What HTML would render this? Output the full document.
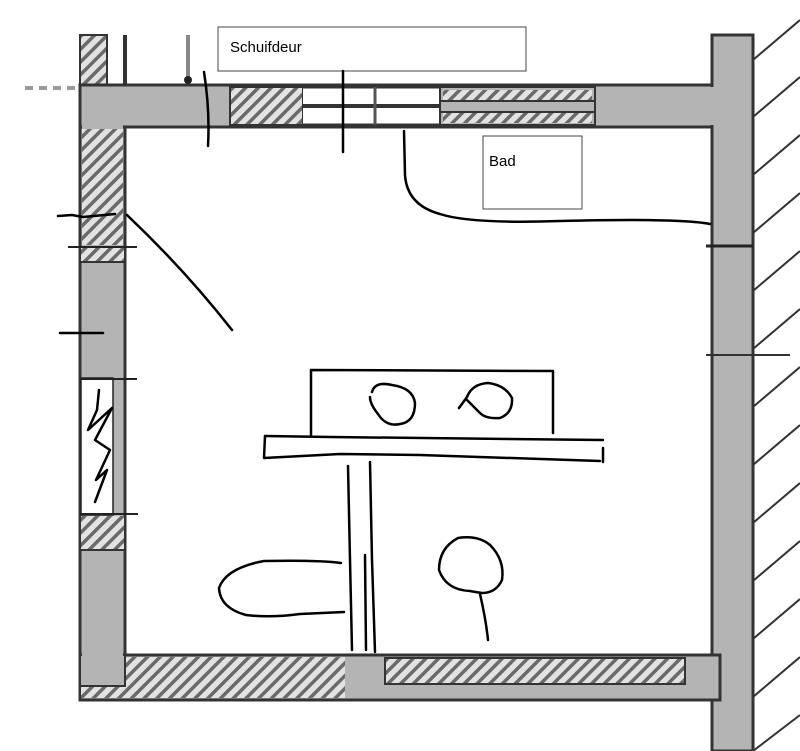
<!DOCTYPE html>
<html><head><meta charset="utf-8"><style>
html,body{margin:0;padding:0;background:#fff;width:800px;height:751px;overflow:hidden}
svg{display:block}
text{font-family:"Liberation Sans",sans-serif}
</style></head><body>
<svg width="800" height="751" viewBox="0 0 800 751" xmlns="http://www.w3.org/2000/svg">
<defs>
<pattern id="h" patternUnits="userSpaceOnUse" width="9" height="9" patternTransform="rotate(45)">
<rect width="9" height="9" fill="#e2e2e2"/><rect width="3.5" height="9" fill="#6a6a6a"/>
</pattern>
</defs>
<line x1="25" y1="88" x2="80" y2="88" stroke="#999" stroke-width="4" stroke-dasharray="8,6"/>
<rect x="80" y="35" width="27" height="50" fill="url(#h)" stroke="#333" stroke-width="2"/>
<line x1="125" y1="35" x2="125" y2="85" stroke="#333" stroke-width="4"/>
<line x1="188" y1="35" x2="188" y2="80" stroke="#888" stroke-width="4"/>
<circle cx="188" cy="80" r="4" fill="#222"/>
<!-- top wall -->
<rect x="80" y="85" width="640" height="42" fill="#b4b4b4" stroke="#333" stroke-width="3"/>
<rect x="230" y="87" width="73" height="38" fill="url(#h)" stroke="#333" stroke-width="2"/>
<rect x="303" y="87" width="137" height="38" fill="#fff"/>
<line x1="303" y1="106" x2="440" y2="106" stroke="#333" stroke-width="4"/>
<line x1="303" y1="87" x2="440" y2="87" stroke="#333" stroke-width="3"/>
<line x1="303" y1="125" x2="440" y2="125" stroke="#333" stroke-width="3"/>
<line x1="375" y1="87" x2="375" y2="125" stroke="#555" stroke-width="3"/>
<rect x="440" y="87" width="155" height="38" fill="#b4b4b4" stroke="#333" stroke-width="2"/>
<rect x="443" y="90" width="149" height="10" fill="url(#h)"/>
<rect x="443" y="113" width="149" height="10" fill="url(#h)"/>
<line x1="440" y1="101" x2="595" y2="101" stroke="#333" stroke-width="2"/>
<line x1="440" y1="112" x2="595" y2="112" stroke="#333" stroke-width="2"/>
<!-- right wall -->
<rect x="712" y="35" width="41" height="716" fill="#b4b4b4" stroke="#333" stroke-width="3"/>
<rect x="710" y="87" width="6" height="38" fill="#b4b4b4"/>
<line x1="706" y1="246" x2="753" y2="246" stroke="#222" stroke-width="3"/>
<line x1="706" y1="355" x2="790" y2="355" stroke="#333" stroke-width="2"/>
<g stroke="#333" stroke-width="2">
<line x1="753" y1="60" x2="800" y2="20"/><line x1="753" y1="117" x2="800" y2="77"/>
<line x1="753" y1="175" x2="800" y2="135"/><line x1="753" y1="233" x2="800" y2="193"/>
<line x1="753" y1="291" x2="800" y2="251"/><line x1="753" y1="349" x2="800" y2="309"/>
<line x1="753" y1="407" x2="800" y2="367"/><line x1="753" y1="465" x2="800" y2="425"/>
<line x1="753" y1="523" x2="800" y2="483"/><line x1="753" y1="581" x2="800" y2="541"/>
<line x1="753" y1="639" x2="800" y2="599"/><line x1="753" y1="697" x2="800" y2="657"/>
<line x1="753" y1="751" x2="800" y2="715"/>
</g>
<!-- left wall -->
<rect x="80" y="127" width="45" height="573" fill="#b4b4b4" stroke="#333" stroke-width="3"/>
<rect x="82" y="125" width="41" height="6" fill="#b4b4b4"/>
<rect x="82" y="129" width="41" height="116" fill="url(#h)"/>
<rect x="81" y="248" width="43" height="13" fill="url(#h)"/>
<line x1="80" y1="262" x2="125" y2="262" stroke="#333" stroke-width="2"/>
<rect x="81" y="378" width="32" height="137" fill="#fff" stroke="#222" stroke-width="1.5"/>
<line x1="80" y1="379" x2="137" y2="379" stroke="#222" stroke-width="2"/>
<line x1="80" y1="514" x2="138" y2="514" stroke="#222" stroke-width="2"/>
<rect x="81" y="516" width="43" height="34" fill="url(#h)"/>
<line x1="80" y1="550" x2="125" y2="550" stroke="#333" stroke-width="2"/>
<line x1="68" y1="247" x2="137" y2="247" stroke="#222" stroke-width="2"/>
<!-- bottom wall -->
<rect x="80" y="655" width="640" height="45" fill="#b4b4b4" stroke="#333" stroke-width="3"/>
<rect x="125" y="657" width="220" height="41" fill="url(#h)"/>
<rect x="81" y="686" width="44" height="12" fill="url(#h)"/>
<rect x="80" y="655" width="45" height="31" fill="#b4b4b4" stroke="#333" stroke-width="2"/>
<rect x="82" y="650" width="41" height="10" fill="#b4b4b4"/>
<rect x="385" y="658" width="300" height="26" fill="url(#h)" stroke="#333" stroke-width="2"/>
<rect x="710" y="657" width="6" height="41" fill="#b4b4b4"/>
<!-- labels -->
<rect x="218" y="27" width="308" height="44" fill="#fff" stroke="#444" stroke-width="1"/>
<text x="230" y="52" font-size="15" fill="#000">Schuifdeur</text>
<rect x="483" y="136" width="99" height="73" fill="#fff" stroke="#444" stroke-width="1"/>
<text x="489" y="166" font-size="15" fill="#000">Bad</text>
<g fill="none" stroke="#000" stroke-width="2.5" stroke-linecap="round" stroke-linejoin="round">
<path d="M204 72 Q210 110 208 146"/>
<line x1="343" y1="71" x2="343" y2="152"/>
<path d="M404 131 L405 175 Q407 205 440 214 Q470 224 560 221 Q680 218 710 224"/>
<path d="M58 216 L72 215 L83 217 L115 214"/>
<line x1="60" y1="333" x2="103" y2="333"/>
<path d="M127 215 Q185 270 232 330"/>
<path d="M99 390 L97 410 L88 430 L112 408 L95 440 L110 450 L96 480 L107 470 L95 502"/>
<path d="M311 436 L311 370 L553 371 L553 433"/>
<path d="M265 436 L330 437 L603 440"/>
<path d="M265 436 L264 458 L340 454 L420 455 L600 461"/>
<path d="M603 448 L603 462"/>
<path d="M372 392 Q375 381 392 385 Q413 388 415 403 Q415 422 400 424 Q386 427 378 414 Q370 404 370 397"/>
<path d="M459 408 L467 397 Q472 384 488 383 Q505 385 512 398 Q513 413 500 418 Q486 419 480 413 Q472 405 467 400"/>
<path d="M348 466 L350 560 L352 650"/>
<path d="M370 462 L372 560 L375 652"/>
<path d="M365 555 L366 650"/>
<path d="M341 563 Q320 560 264 561 Q226 568 219 588 Q220 608 246 615 Q270 618 300 614 L344 612"/>
<path d="M470 591 Q446 590 439 570 Q439 548 458 538 Q478 535 490 545 Q505 560 502 580 Q496 593 482 593 Q475 592 470 591 Z"/>
<path d="M480 594 Q486 620 488 640"/>
</g>
</svg>
</body></html>
